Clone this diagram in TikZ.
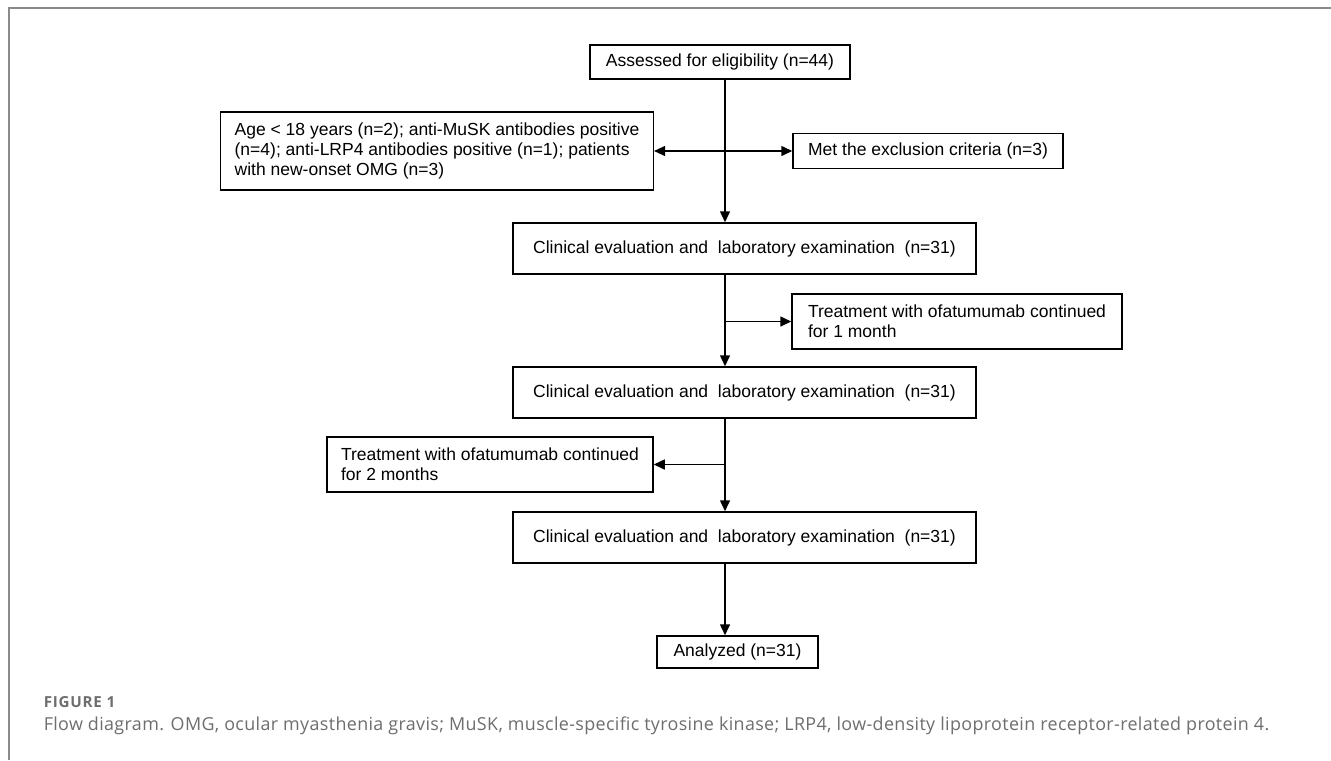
\documentclass[tikz,border=0pt]{standalone}
\usepackage{fontspec}
\setmainfont{Liberation Sans}
\newfontfamily\capfont[LetterSpace=2]{Open Sans}
\newfontfamily\figfont[LetterSpace=5]{Open Sans}
\usepackage{tikz}
\usetikzlibrary{positioning}
\usetikzlibrary{arrows.meta}
\usepackage{xcolor}
\definecolor{framegray} {RGB} {138,138,138}
\definecolor{captiongray} {RGB} {110,110,110}
\tikzstyle{box} = [rectangle,draw=black,line width=0.75pt,fill=white,inner sep=0pt,
  font=\fontsize{8.75pt}{10pt}\selectfont]
\tikzstyle{note} = [box,align=left,inner xsep=6pt]
\tikzset{>={Triangle[length=5.5pt,width=5pt]}}

\begin{document}
\begin{tikzpicture}[x=0.5pt,y=-0.5pt,line width=0.75pt]
  \useasboundingbox (0,0) rectangle (1331,760);
  \fill [white] (0,0) rectangle (1331,760);
  \draw [framegray,line width=1pt] (9,760) -- (9,8) -- (1331,8);

  \node [box,minimum width=130pt,minimum height=17pt] (assess) at (720,62) {Assessed for eligibility (n=44)};
  \node [note,inner xsep=7pt,minimum height=39pt] (excl) at (437,151) {Age < 18 years (n=2); anti-MuSK antibodies positive\\(n=4); anti-LRP4 antibodies positive (n=1); patients\\with new-onset OMG (n=3)};
  \node [box,minimum width=135pt,minimum height=17.5pt] (met) at (928,151) {Met the exclusion criteria (n=3)};

  \node [box,minimum width=231.5pt,minimum height=25.5pt] (eval1) at (744.5,248.5) {Clinical evaluation and\ \ laboratory examination\ \ (n=31)};
  \node [note,inner xsep=8pt,minimum height=27.5pt] (treat1) at (957,321.5) {Treatment with ofatumumab continued\\for 1 month};
  \node [box,minimum width=231.5pt,minimum height=25.5pt] (eval2) at (744.5,392.5) {Clinical evaluation and\ \ laboratory examination\ \ (n=31)};
  \node [note,inner xsep=7pt,minimum height=27.5pt] (treat2) at (490,464.5) {Treatment with ofatumumab continued\\for 2 months};
  \node [box,minimum width=231.5pt,minimum height=25.5pt] (eval3) at (744.5,537.5) {Clinical evaluation and\ \ laboratory examination\ \ (n=31)};
  \node [box,minimum width=80.5pt,minimum height=16pt] (anal) at (737.5,652) {Analyzed (n=31)};

  \coordinate (spine) at (725,0);
  \coordinate (b1) at (725,321.5);
  \coordinate (b2) at (725,464.5);

  \draw [->] (assess.south -| spine) -- (eval1.north -| spine);
  \draw [<->] (excl.east) -- (met.west);
  \draw [->] (b1) -- (treat1.west);
  \draw [->] (eval1.south -| spine) -- (eval2.north -| spine);
  \draw [->] (b2) -- (treat2.east);
  \draw [->] (eval2.south -| spine) -- (eval3.north -| spine);
  \draw [->] (eval3.south -| spine) -- (anal.north -| spine);

  \node [anchor=west,inner sep=0pt,text=captiongray,font=\figfont\bfseries\fontsize{7.6pt}{8pt}\selectfont] (fig) at (43,702) {FIGURE 1};
  \node [anchor=west,inner sep=0pt,text=captiongray,font=\capfont\fontsize{8.95pt}{10pt}\selectfont] (cap) at (43,726) {Flow diagram. OMG, ocular myasthenia gravis; MuSK, muscle-specific tyrosine kinase; LRP4, low-density lipoprotein receptor-related protein 4.};
\end{tikzpicture}
\end{document}
